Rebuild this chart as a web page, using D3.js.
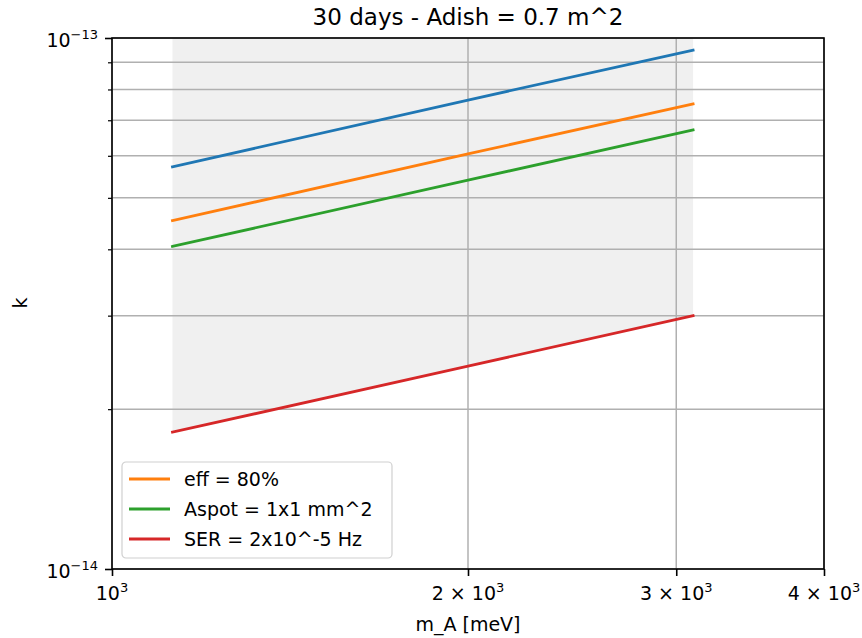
<!DOCTYPE html>
<html>
<head>
<meta charset="utf-8">
<script src="https://cdn.jsdelivr.net/npm/d3@7"></script>
<style>
  body { margin: 0; background: #fff; }
  text { font-family: "DejaVu Sans", sans-serif; fill: #000; }
</style>
</head>
<body>
<svg width="862" height="638"></svg>
<script>
// m_A values (meV) where the curves were read
const massValues = [1125, 2000, 3100];

// k values for each curve
const baseValues = [5.72e-14, 7.64e-14, 9.49e-14];
const effValues = [4.53e-14, 6.05e-14, 7.51e-14];
const aspotValues = [4.05e-14, 5.40e-14, 6.71e-14];
const serValues = [1.81e-14, 2.41e-14, 3.00e-14];

const seriesNames = ["", "eff = 80%", "Aspot = 1x1 mm^2", "SER = 2x10^-5 Hz"];
const seriesColors = ["#1f77b4", "#ff7f0e", "#2ca02c", "#d62728"];

// tick labels
const xTicks = [1000, 2000, 3000, 4000];
const xTickMant = ["", "2", "3", "4"];
const yMajor = [1e-14, 1e-13];
const yMajorExp = ["\u221214", "\u221213"];
const yMinor = [2e-14, 3e-14, 4e-14, 5e-14, 6e-14, 7e-14, 8e-14, 9e-14];

const margin = {top: 38, right: 38, bottom: 69, left: 112};
const width = 862 - margin.left - margin.right;
const height = 638 - margin.top - margin.bottom;

const svg = d3.select("svg");
const g = svg.append("g")
    .attr("transform", `translate(${margin.left},${margin.top})`);

const x = d3.scaleLog().domain([1000, 4000]).range([0, width]);
const y = d3.scaleLog().domain([1e-14, 1e-13]).range([height, 0]);

const allSeries = [baseValues, effValues, aspotValues, serValues].map((vals, i) => ({
    name: seriesNames[i],
    color: seriesColors[i],
    points: massValues.map((m, j) => ({m: m, k: vals[j]}))
}));

g.append("clipPath").attr("id", "clip")
  .append("rect").attr("width", width).attr("height", height);

// shaded region above the SER curve
const area = d3.area()
    .x(d => x(d.m))
    .y0(d => y(d.k))
    .y1(() => y(1e-13));
g.append("path")
    .datum(allSeries[3].points)
    .attr("d", area)
    .attr("fill", "#f0f0f0")
    .attr("clip-path", "url(#clip)");

// grid
g.selectAll(".gx").data(xTicks).enter().append("line")
    .attr("x1", d => x(d)).attr("x2", d => x(d))
    .attr("y1", 0).attr("y2", height)
    .attr("stroke", "#b0b0b0").attr("stroke-width", 1.5);
g.selectAll(".gy").data(yMajor.concat(yMinor)).enter().append("line")
    .attr("x1", 0).attr("x2", width)
    .attr("y1", d => y(d)).attr("y2", d => y(d))
    .attr("stroke", "#b0b0b0").attr("stroke-width", 1.5);

// curves
const line = d3.line().x(d => x(d.m)).y(d => y(d.k));
g.selectAll(".curve").data(allSeries).enter().append("path")
    .attr("d", d => line(d.points))
    .attr("fill", "none")
    .attr("stroke", d => d.color)
    .attr("stroke-width", 2.8)
    .attr("stroke-linecap", "square")
    .attr("clip-path", "url(#clip)");

// spines
g.append("rect")
    .attr("width", width).attr("height", height)
    .attr("fill", "none").attr("stroke", "#000").attr("stroke-width", 1.6);

// ticks
const xAxis = g.append("g").attr("transform", `translate(0,${height})`)
    .call(d3.axisBottom(x).tickValues(xTicks).tickSize(7).tickFormat(""));
xAxis.select(".domain").remove();
xAxis.selectAll("line").attr("stroke-width", 1.6);

const yAxis = g.append("g")
    .call(d3.axisLeft(y).tickValues(yMajor).tickSize(7).tickFormat(""));
yAxis.select(".domain").remove();
yAxis.selectAll("line").attr("stroke-width", 1.6);
const yAxisMinor = g.append("g")
    .call(d3.axisLeft(y).tickValues(yMinor).tickSize(4).tickFormat(""));
yAxisMinor.select(".domain").remove();
yAxisMinor.selectAll("line").attr("stroke-width", 1.2);

// x tick labels
xTicks.forEach((v, i) => {
    const t = g.append("text")
        .attr("x", x(v)).attr("y", height + 31)
        .attr("text-anchor", "middle")
        .style("font-size", "19px");
    t.append("tspan").text(xTickMant[i] ? xTickMant[i] + " \u00d7 10" : "10");
    t.append("tspan").attr("dy", -8).style("font-size", "13px").text("3");
});

// y tick labels
yMajor.forEach((v, i) => {
    const t = g.append("text")
        .attr("x", -14).attr("y", y(v) + 9)
        .attr("text-anchor", "end")
        .style("font-size", "19px");
    t.append("tspan").text("10");
    t.append("tspan").attr("dy", -8).style("font-size", "13px").text(yMajorExp[i]);
});

// title and axis labels
svg.append("text")
    .attr("x", margin.left + width / 2).attr("y", 25)
    .attr("text-anchor", "middle")
    .style("font-size", "23px")
    .text("30 days - Adish = 0.7 m^2");

svg.append("text")
    .attr("x", margin.left + width / 2).attr("y", 631)
    .attr("text-anchor", "middle")
    .style("font-size", "19px")
    .text("m_A [meV]");

svg.append("text")
    .attr("transform", "translate(27,303) rotate(-90)")
    .attr("text-anchor", "middle")
    .style("font-size", "19px")
    .text("k");

// legend
const legendItems = allSeries.slice(1);
const legend = svg.append("g").attr("transform", "translate(122,462)");
legend.append("rect")
    .attr("width", 270).attr("height", 96)
    .attr("rx", 4)
    .attr("fill", "#fff").attr("fill-opacity", 0.8)
    .attr("stroke", "#d0d0d0").attr("stroke-width", 1.2);
const rows = legend.selectAll(".item").data(legendItems).enter().append("g")
    .attr("transform", (d, i) => `translate(0,${17 + 30 * i})`);
rows.append("line")
    .attr("x1", 7).attr("x2", 48)
    .attr("stroke", d => d.color).attr("stroke-width", 2.8);
rows.append("text")
    .attr("x", 62).attr("y", 7)
    .style("font-size", "19px")
    .text(d => d.name);
</script>
</body>
</html>
